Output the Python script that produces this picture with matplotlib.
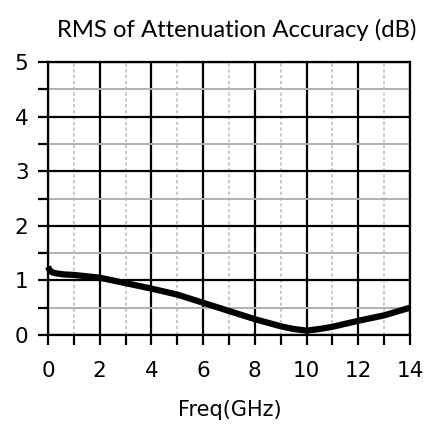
import numpy as np
import matplotlib
matplotlib.use('Agg')
import matplotlib.pyplot as plt
from matplotlib.ticker import MultipleLocator

# data
freq_ghz = [0.0, 0.05, 0.15, 0.3, 0.6, 1.0, 2.0, 3.0, 4.0, 5.0, 6.0, 7.0, 8.0,
            9.0, 9.5, 10.0, 10.5, 11.0, 12.0, 13.0, 14.0]
rms_db = [1.25, 1.20, 1.15, 1.13, 1.11, 1.10, 1.05, 0.95, 0.85, 0.74, 0.59,
          0.44, 0.29, 0.16, 0.11, 0.08, 0.11, 0.15, 0.26, 0.36, 0.50]

x_ticks = [0, 2, 4, 6, 8, 10, 12, 14]
y_ticks = [0, 1, 2, 3, 4, 5]

fig = plt.figure(figsize=(4.33, 4.25), dpi=100)
ax = fig.add_axes([48/433, 90/425, 362/433, 273/425])

ax.set_xlim(0, 14)
ax.set_ylim(0, 5)
ax.set_xticks(x_ticks)
ax.set_yticks(y_ticks)
ax.xaxis.set_minor_locator(MultipleLocator(1))
ax.yaxis.set_minor_locator(MultipleLocator(0.5))

# grid: black majors, grey minors (dashed verticals)
ax.grid(which='major', color='black', linewidth=1.6, linestyle='-')
ax.xaxis.grid(which='minor', color='#c0c0c0', linewidth=1.2, linestyle=(0, (2, 1.5)))
ax.yaxis.grid(which='minor', color='#b0b0b0', linewidth=1.4, linestyle='-')
ax.set_axisbelow(True)

for s in ax.spines.values():
    s.set_color('black')
    s.set_linewidth(1.6)

ax.tick_params(which='both', direction='out', color='black', width=1.6,
               length=7, labelsize=15.5)
ax.tick_params(axis='x', which='both', pad=12)
ax.tick_params(axis='y', which='both', pad=7)

ax.plot(freq_ghz, rms_db, color='black', linewidth=4.5,
        solid_capstyle='butt', clip_on=False, zorder=5)

fig.text(237/433, 1 - 30/425, 'RMS of Attenuation Accuracy (dB)',
         ha='center', va='center', fontsize=17.2, family='Lato')
fig.text(230/433, 1 - 410/425, 'Freq(GHz)', ha='center', va='center',
         fontsize=15)

fig.savefig('out.png', dpi=100)
